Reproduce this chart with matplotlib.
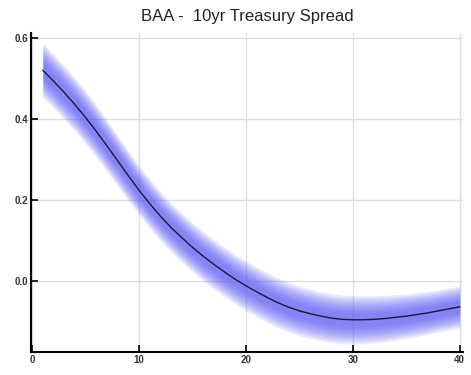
import matplotlib
matplotlib.use("Agg")
import matplotlib.pyplot as plt
import numpy as np

plt.rcParams['font.family'] = ['Liberation Sans', 'DejaVu Sans']

# horizon (periods) and median response
horizon = list(range(1, 41))
median = [0.520, 0.493, 0.465, 0.435, 0.403, 0.369, 0.333, 0.296, 0.259, 0.223,
          0.190, 0.159, 0.131, 0.106, 0.082, 0.060, 0.040, 0.021, 0.003, -0.013,
          -0.028, -0.042, -0.055, -0.066, -0.075, -0.082, -0.088, -0.093, -0.096, -0.097,
          -0.097, -0.096, -0.094, -0.091, -0.088, -0.084, -0.080, -0.075, -0.070, -0.065]
# half width of the outermost band at each horizon
spread = [0.067, 0.066, 0.066, 0.065, 0.065, 0.064, 0.063, 0.062, 0.061, 0.060,
          0.060, 0.060, 0.060, 0.060, 0.060, 0.061, 0.061, 0.061, 0.061, 0.061,
          0.061, 0.061, 0.061, 0.061, 0.061, 0.061, 0.060, 0.060, 0.060, 0.060,
          0.059, 0.058, 0.057, 0.056, 0.055, 0.054, 0.053, 0.052, 0.052, 0.051]
levels = [1.0, 0.9, 0.8, 0.7, 0.6, 0.5, 0.4, 0.3]

x = np.array(horizon)
m = np.array(median)
s = np.array(spread)

fig = plt.figure(figsize=(4.71, 3.75), dpi=100)
ax = fig.add_axes([0.066, 0.061, 0.917, 0.851])

for lv in levels:
    ax.fill_between(x, m - lv * s, m + lv * s, color=(0.33, 0.33, 0.97),
                    alpha=0.14, linewidth=0, zorder=1)
ax.plot(x, m, color='#1a1a2e', lw=1.0, zorder=3)

ax.set_xlim(-0.1, 40.3)
ax.set_ylim(-0.177, 0.612)
ax.set_xticks([0, 10, 20, 30, 40])
ax.set_yticks([0.0, 0.2, 0.4, 0.6])
ax.set_yticklabels(['0.0', '0.2', '0.4', '0.6'])

ax.grid(True, color='#dedede', lw=1.0)
ax.set_axisbelow(True)
for sp in ['top', 'right']:
    ax.spines[sp].set_visible(False)
for sp in ['left', 'bottom']:
    ax.spines[sp].set_linewidth(1.5)
    ax.spines[sp].set_zorder(4)
ax.tick_params(direction='in', length=5, width=1.2, labelsize=7, pad=2)
for lab in ax.get_xticklabels() + ax.get_yticklabels():
    lab.set_fontweight('bold')
    lab.set_color('#333333')

ax.set_title('BAA -  10yr Treasury Spread', fontsize=12, color='#222222', pad=9)

fig.savefig('out.png', dpi=100)
